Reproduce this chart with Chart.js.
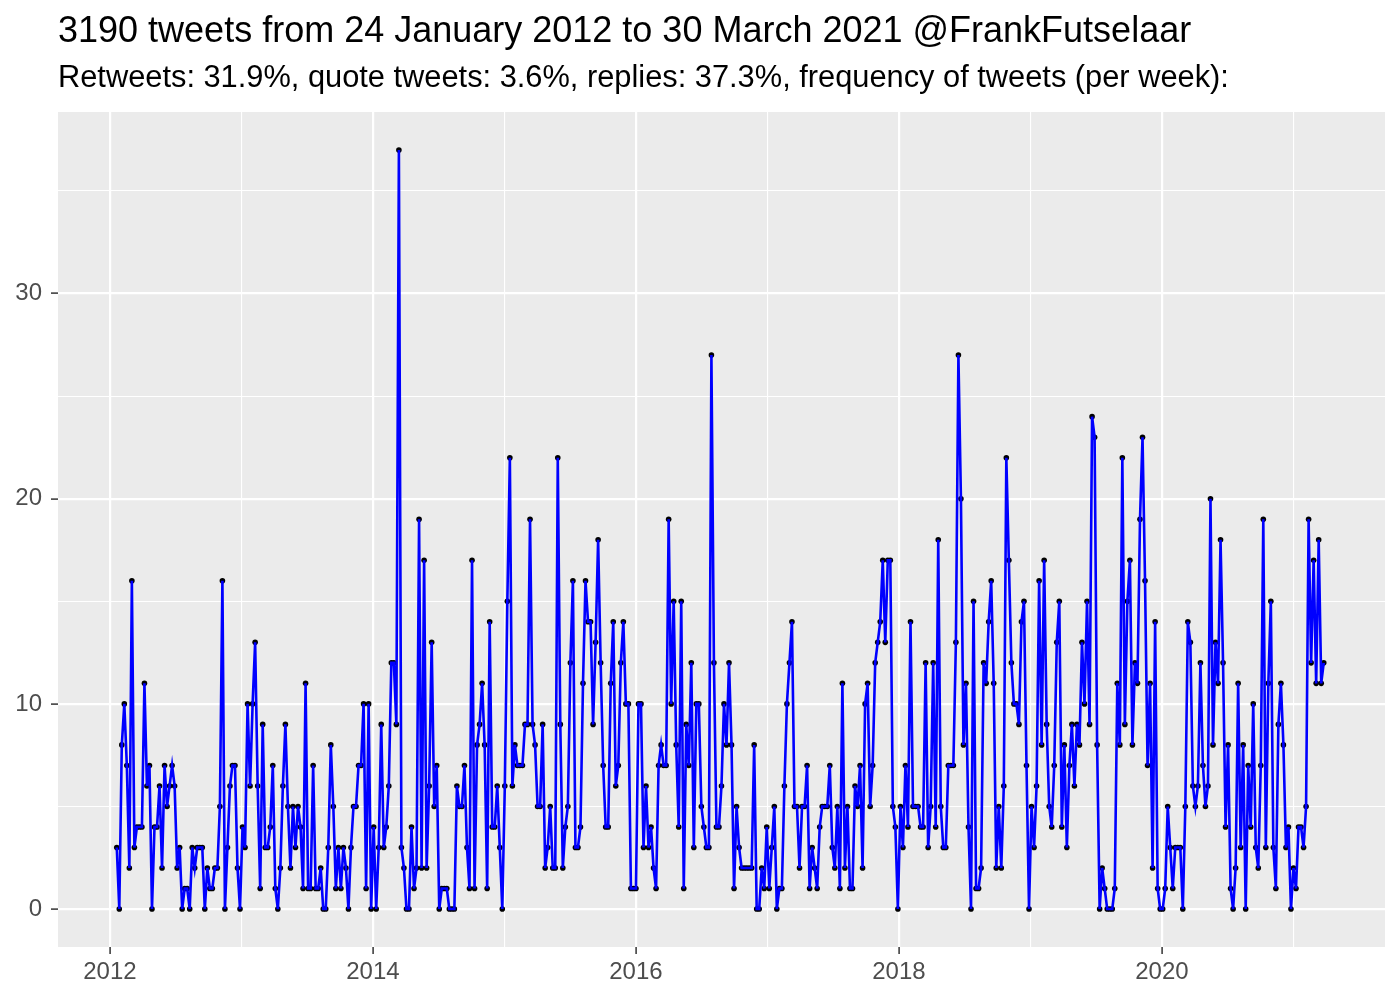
<!DOCTYPE html>
<html>
<head>
<meta charset="utf-8">
<script src="https://cdn.jsdelivr.net/npm/chart.js@4"></script>
<style>
  html, body { margin: 0; padding: 0; background: #ffffff; }
  #wrap { width: 1400px; height: 1000px; }
</style>
</head>
<body>
<div id="wrap"><canvas id="tweetChart" width="1400" height="1000"></canvas></div>
<script>
// weekly tweet counts (one value per week)
const firstWeek = '2012-01-20';
const tweets2012 = [3,0,8,10,7,2,16,3,4,4,4,11,6,7,0,4,4,6,2,7,5,6,7,6,2,3,0,1,1,0,3,2,3,3,3,0,2,1,1,2,
                    2,5,16,0,3,6,7,7,2,0,4,3];
const tweets2013 = [10,6,10,13,6,1,9,3,3,4,7,1,0,2,6,9,5,2,5,3,5,4,1,11,1,1,
                    7,1,1,2,0,0,3,8,5,1,3,1,3,2,0,3,5,5,7,7,10,1,10,0,4,0,3];
const tweets2014 = [9,3,4,6,12,12,9,37,3,2,0,0,4,1,2,19,2,
                    17,2,6,13,5,7,0,1,1,1,0,0,0,6,5,5,7,3,1,17,1,8,9,11,8,1,14,4,4,6,3,0,6,15];
const tweets2015 = [22,6,8,7,7,7,
                    9,9,19,9,8,5,5,9,2,3,5,2,2,22,9,2,4,5,12,16,3,3,4,11,16,14,14,9,13,18,12,7,4,4,11,14,6,7,12,14,10,
                    10,1,1,1];
const tweets2016 = [10,10,3,6,3,4,2,1,7,8,7,7,19,10,15,8,4,15,1,9,7,12,3,10,10,5,4,3,3,27,12,4,4,6,10,8,
                    12,8,1,5,3,2,2,2,2,2,8,0,0,2];
const tweets2017 = [1,4,1,3,5,0,1,1,6,10,12,14,5,5,2,5,5,7,1,3,2,1,4,5,5,5,7,
                    3,2,5,1,11,2,5,1,1,6,5,7,2,10,11,5,7,12,13,14,17,13,17,17,5,4];
const tweets2018 = [0,5,3,7,4,14,5,5,5,4,4,12,3,5,12,
                    4,18,5,3,3,7,7,7,13,27,20,8,11,4,0,15,1,1,2,12,11,14,16,11,2,5,2,6,22,17,12,10,10,9,14,15,7];
const tweets2019 = [0,5,
                    3,6,16,8,17,9,5,4,7,13,15,4,8,3,7,9,6,9,8,13,10,15,9,24,23,8,0,2,1,0,0,0,1,11,8,22,9,15,17,8,12,
                    11,19,23,16,7,11,2,14,1];
const tweets2020 = [0,0,1,5,3,1,3,3,3,0,5,14,13,6,5,6,12,7,5,6,20,8,13,11,18,12,4,8,1,0,2,11,
                    3,8,0,7,4,10,3,2,7,19,3,11,15,3,1,9,11,8,3,4];
const tweets2021 = [0,2,1,4,4,3,5,19,12,17,11,18,11,12];

const weeklyTweets = [].concat(tweets2012, tweets2013, tweets2014, tweets2015, tweets2016,
                               tweets2017, tweets2018, tweets2019, tweets2020, tweets2021);

const xTickYears = [2012, 2013, 2014, 2015, 2016, 2017, 2018, 2019, 2020, 2021];
const yTickValues = [0, 5, 10, 15, 20, 25, 30, 35];

const titleText = '3190 tweets from 24 January 2012 to 30 March 2021 @FrankFutselaar';
const subtitleText = 'Retweets: 31.9%, quote tweets: 3.6%, replies: 37.3%, frequency of tweets (per week):';

// week start dates -> decimal years for the linear x axis
const toYear = (ms) => {
    const d = new Date(ms);
    const y = d.getUTCFullYear();
    const start = Date.UTC(y, 0, 1);
    const end = Date.UTC(y + 1, 0, 1);
    return y + (ms - start) / (end - start);
};
const firstMs = Date.parse(firstWeek + 'T00:00:00Z');
const points = weeklyTweets.map((v, i) => ({ x: toYear(firstMs + i * 7 * 864e5), y: v }));

const FONT = '"Liberation Sans", Arial, Helvetica, sans-serif';

// grey panel behind the plot, plus title and subtitle
const panelPlugin = {
    id: 'panel',
    beforeDraw(chart) {
        const { ctx, chartArea: a } = chart;
        ctx.save();
        ctx.fillStyle = '#ffffff';
        ctx.fillRect(0, 0, chart.width, chart.height);
        ctx.fillStyle = '#EBEBEB';
        ctx.fillRect(a.left, a.top, a.right - a.left, a.bottom - a.top);
        ctx.restore();
    },
    afterDraw(chart) {
        const { ctx, chartArea: a } = chart;
        ctx.save();
        ctx.fillStyle = '#000000';
        ctx.textAlign = 'left';
        ctx.textBaseline = 'alphabetic';
        ctx.font = '36px ' + FONT;
        ctx.fillText(titleText, a.left, 42);
        ctx.font = '30.8px ' + FONT;
        ctx.fillText(subtitleText, a.left, 87);
        ctx.restore();
    }
};

const ctx = document.getElementById('tweetChart');
new Chart(ctx, {
    type: 'line',
    data: {
        datasets: [
            {
                label: 'tweets per week',
                data: points,
                borderColor: '#0000FF',
                borderWidth: 2.6,
                pointRadius: 0,
                tension: 0,
                order: 1
            },
            {
                label: 'points',
                data: points,
                showLine: false,
                pointRadius: 2.8,
                pointBorderWidth: 0,
                pointBackgroundColor: '#000000',
                order: 2
            }
        ]
    },
    options: {
        responsive: false,
        animation: false,
        devicePixelRatio: 1,
        layout: { padding: { top: 112, right: 15, bottom: 0, left: 0 } },
        plugins: {
            legend: { display: false },
            tooltip: { enabled: false },
            title: { display: false }
        },
        scales: {
            x: {
                type: 'linear',
                min: 2011.605,
                max: 2021.696,
                afterBuildTicks: (scale) => { scale.ticks = xTickYears.map(v => ({ value: v })); },
                afterFit: (scale) => { scale.height = 53; },
                border: { display: false },
                grid: {
                    color: '#ffffff',
                    lineWidth: (c) => (c.tick && c.tick.value % 2 === 0 ? 2.2 : 1.1),
                    tickColor: (c) => (c.tick && c.tick.value % 2 === 0 ? '#333333' : 'rgba(0,0,0,0)'),
                    tickLength: 7,
                    tickWidth: 1.5
                },
                ticks: {
                    autoSkip: false,
                    maxRotation: 0,
                    padding: 4,
                    color: '#4D4D4D',
                    font: { family: FONT, size: 24 },
                    callback: (v) => (v % 2 === 0 ? String(v) : '')
                }
            },
            y: {
                min: -1.85,
                max: 38.85,
                afterBuildTicks: (scale) => { scale.ticks = yTickValues.map(v => ({ value: v })); },
                afterFit: (scale) => { scale.width = 58; },
                border: { display: false },
                grid: {
                    color: '#ffffff',
                    lineWidth: (c) => (c.tick && c.tick.value % 10 === 0 ? 2.2 : 1.1),
                    tickColor: (c) => (c.tick && c.tick.value % 10 === 0 ? '#333333' : 'rgba(0,0,0,0)'),
                    tickLength: 7,
                    tickWidth: 1.5
                },
                ticks: {
                    padding: 9,
                    color: '#4D4D4D',
                    font: { family: FONT, size: 24 },
                    callback: (v) => (v % 10 === 0 ? String(v) : '')
                }
            }
        }
    },
    plugins: [panelPlugin]
});
</script>
</body>
</html>
